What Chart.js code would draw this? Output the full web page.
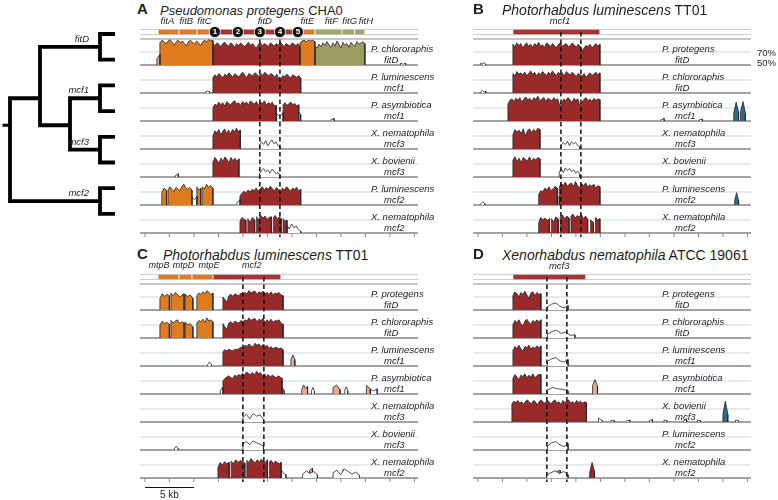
<!DOCTYPE html>
<html>
<head>
<meta charset="utf-8">
<title>fitD / mcf conservation</title>
<script src="https://cdn.jsdelivr.net/npm/chart.js@4.4.1/dist/chart.umd.min.js"></script>
<style>
  html, body { margin: 0; padding: 0; background: #fff; }
  body { position: relative; width: 778px; height: 500px; overflow: hidden;
         font-family: "Liberation Sans", Arial, sans-serif; color: #1e1e1e; }
  canvas { position: absolute; }
  .lbl { position: absolute; white-space: nowrap; line-height: 1; }
</style>
</head>
<body>
<script>
// ---------------- data ----------------
// conservation profiles: [annotation, start kb, end kb, [% identity samples]]
const profileA = [
  [['utr', 1.22, 1.53, [60, 66]],
   ['fit', 1.53, 6.94, [84, 88, 86, 82, 87, 89, 85, 80, 86, 88, 84, 87, 83, 79, 86, 88, 85, 82, 87, 84, 80, 86, 88, 86, 89, 87, 88]],
   ['mcf', 6.94, 15.82, [83, 80, 84, 82, 78, 83, 85, 81, 79, 84, 82, 77, 83, 80, 84, 81, 78, 82, 85, 80, 83, 79, 76, 82, 84, 80, 83, 81, 78, 84, 82, 79, 83, 80, 85, 82, 78, 83, 81, 79, 84, 82, 80, 83, 78]],
   ['fit', 15.82, 17.35, [84, 87, 88, 86, 88, 87, 88, 86]],
   ['fgh', 17.35, 22.45, [79, 76, 82, 78, 84, 80, 86, 81, 77, 84, 79, 87, 82, 76, 85, 80, 83, 77, 85, 81, 79, 86, 82, 84, 86, 83]],
   ['low', 26.1, 26.6, [53, 51, 53]]],
  [['low', 6.2, 6.6, [52, 53, 52]],
   ['mcf', 6.94, 15.9, [74, 78, 75, 80, 77, 73, 79, 76, 81, 78, 74, 80, 77, 75, 79, 82, 77, 74, 80, 78, 76, 81, 79, 75, 80, 77, 82, 79, 76, 80, 78, 74, 79, 72, 70, 77, 75, 79, 76, 73, 78, 76, 74, 77, 73]]],
  [['mcf', 6.94, 13.4, [70, 76, 74, 79, 75, 78, 73, 80, 77, 75, 79, 81, 76, 78, 74, 80, 77, 79, 75, 81, 78, 76, 80, 74, 79, 77, 81, 75, 78, 76, 79, 73, 74]],
   ['low', 13.4, 14.1, [62, 57, 63]],
   ['mcf', 14.1, 15.7, [75, 78, 74, 77, 79, 75, 77, 73, 75]],
   ['low', 15.7, 15.9, [64, 60]],
   ['low', 19.0, 19.3, [52, 54]]],
  [['mcf', 6.94, 9.74, [70, 78, 75, 80, 72, 77, 81, 74, 79, 73, 80, 76, 82, 77, 79]],
   ['low', 11.7, 13.8, [56, 61, 57, 63, 55, 60, 64, 58, 61, 55, 53]]],
  [['low', 3.1, 3.4, [52, 55]],
   ['mcf', 6.94, 9.6, [73, 80, 76, 71, 79, 74, 81, 77, 72, 80, 75, 79, 74, 78]],
   ['low', 11.7, 13.8, [55, 60, 63, 58, 61, 56, 62, 59, 55, 57, 53]]],
  [['fit', 1.73, 2.2, [70, 76, 72]],
   ['fit', 2.35, 4.8, [73, 78, 74, 71, 77, 75, 72, 79, 82, 76, 74, 77, 73]],
   ['low', 4.8, 5.3, [62, 58, 63]],
   ['fit', 5.3, 5.7, [78, 73, 76]],
   ['fit', 5.85, 6.94, [78, 75, 82, 77, 80, 76]],
   ['low', 9.4, 9.7, [54, 58]],
   ['mcf', 9.7, 15.9, [64, 68, 71, 69, 73, 70, 74, 72, 76, 71, 75, 78, 73, 77, 74, 79, 75, 72, 77, 74, 70, 76, 73, 78, 75, 71, 76, 74, 77, 72, 74]]],
  [['mcf', 9.7, 10.3, [68, 74, 71, 70]],
   ['mcf', 10.5, 11.2, [72, 66, 74, 70]],
   ['mcf', 11.4, 12.9, [75, 70, 77, 73, 76, 71, 74, 75]],
   ['mcf', 13.1, 13.9, [74, 77, 71, 75, 72]],
   ['mcf', 14.1, 14.5, [72, 68, 70]],
   ['low', 14.5, 15.9, [62, 56, 64, 58, 61, 55, 53]]]
];
const profileB = [
  [['low', 0.3, 0.8, [53, 51, 54, 51]],
   ['mcf', 3.57, 12.45, [82, 78, 84, 80, 83, 76, 81, 84, 79, 82, 77, 83, 80, 85, 79, 81, 77, 84, 82, 78, 83, 80, 76, 82, 84, 79, 81, 83, 78, 80, 84, 81, 77, 82, 79, 72, 76, 80, 78, 82, 76, 80, 83, 79, 82]]],
  [['low', 0.3, 0.8, [52, 54, 51, 53]],
   ['mcf', 3.57, 12.45, [80, 76, 83, 79, 81, 78, 82, 77, 80, 84, 79, 82, 76, 81, 78, 83, 80, 77, 82, 79, 84, 80, 77, 82, 79, 81, 76, 83, 80, 78, 82, 79, 75, 80, 78, 76, 80, 74, 78, 81, 77, 79, 82, 78, 81]]],
  [['mcf', 3.06, 12.45, [76, 82, 84, 80, 85, 82, 86, 79, 84, 87, 82, 85, 80, 86, 83, 88, 81, 84, 86, 80, 85, 83, 81, 86, 82, 84, 72, 79, 84, 81, 86, 83, 78, 85, 82, 84, 73, 79, 83, 86, 81, 84, 80, 85, 82, 84, 83]],
   ['low', 18.7, 19.0, [52, 54]],
   ['low', 22.6, 22.9, [52, 53]],
   ['oth', 26.1, 26.6, [62, 79, 64]],
   ['oth', 26.8, 27.3, [64, 80, 62]]],
  [['mcf', 3.57, 6.33, [72, 80, 76, 79, 74, 81, 70, 78, 81, 75, 80, 77, 82, 80]],
   ['low', 8.5, 10.4, [56, 60, 57, 62, 55, 61, 58, 60, 55, 53]]],
  [['mcf', 3.57, 6.33, [76, 81, 74, 79, 72, 80, 77, 75, 81, 74, 79, 76, 80, 78]],
   ['low', 8.3, 10.4, [58, 62, 57, 64, 60, 63, 58, 61, 56, 59, 54]]],
  [['low', 0.3, 0.7, [52, 55, 52]],
   ['mcf', 6.2, 8.1, [66, 72, 70, 76, 73, 78, 72, 75, 79, 76]],
   ['low', 8.1, 8.3, [63, 62]],
   ['mcf', 8.3, 12.45, [78, 83, 80, 85, 79, 82, 84, 78, 86, 80, 76, 83, 80, 84, 78, 81, 79, 82, 76, 80, 78]],
   ['oth', 26.2, 26.6, [57, 69, 57]]],
  [['mcf', 6.2, 7.3, [66, 74, 70, 73, 69, 72]],
   ['mcf', 7.5, 8.2, [72, 67, 75, 71]],
   ['mcf', 8.4, 9.3, [74, 78, 72, 76, 73]],
   ['mcf', 9.5, 11.2, [76, 79, 73, 77, 75, 78, 72, 76, 71]],
   ['mcf', 11.5, 11.8, [70, 66]],
   ['mcf', 12.0, 12.45, [74, 70, 72]]]
];
const profileC = [
  [['fit', 1.53, 2.5, [68, 75, 71, 74, 72]],
   ['fit', 2.65, 4.0, [76, 72, 77, 74, 70, 73, 75]],
   ['fit', 4.1, 4.9, [74, 71, 73, 68]],
   ['fit', 5.3, 6.94, [72, 76, 74, 78, 75, 80, 77, 74, 76]],
   ['mcf', 7.96, 14.1, [70, 66, 62, 72, 74, 71, 75, 73, 72, 76, 74, 77, 75, 80, 76, 78, 79, 74, 78, 76, 79, 75, 77, 74, 78, 73, 76, 75, 77, 73, 72]]],
  [['fit', 1.53, 2.5, [70, 76, 72, 74, 71]],
   ['fit', 2.65, 4.0, [77, 73, 76, 78, 72, 75, 73]],
   ['fit', 4.1, 4.9, [75, 70, 72, 67]],
   ['fit', 5.3, 6.94, [73, 77, 75, 79, 74, 81, 76, 78, 75]],
   ['mcf', 7.96, 14.1, [72, 67, 64, 73, 75, 72, 76, 74, 73, 77, 75, 78, 76, 81, 77, 79, 80, 75, 79, 77, 80, 74, 78, 75, 79, 74, 77, 76, 78, 73, 71]]],
  [['low', 6.4, 6.8, [52, 56, 52]],
   ['mcf', 7.96, 14.1, [72, 75, 73, 76, 74, 73, 76, 75, 77, 79, 76, 82, 80, 84, 81, 79, 85, 82, 84, 80, 83, 79, 82, 77, 80, 76, 79, 78, 76, 78, 75]],
   ['utr', 14.9, 15.3, [60, 67, 60]]],
  [['low', 7.7, 7.96, [56, 60]],
   ['mcf', 7.96, 14.0, [70, 74, 76, 78, 75, 74, 79, 77, 80, 78, 82, 79, 84, 81, 80, 83, 79, 85, 81, 83, 78, 81, 77, 80, 76, 79, 77, 75, 78, 76, 74]],
   ['low', 14.0, 14.2, [60, 56]],
   ['utr', 16.0, 16.6, [57, 64, 58, 62]],
   ['low', 17.0, 17.3, [55, 60, 54]],
   ['utr', 19.2, 19.9, [60, 64, 57]],
   ['low', 20.4, 20.7, [56, 61, 55]],
   ['utr', 22.6, 23.0, [63, 58]],
   ['low', 23.0, 23.7, [57, 55, 58]]],
  [['low', 10.0, 12.1, [57, 62, 55, 63, 59, 61, 54]]],
  [['low', 3.0, 3.4, [52, 56, 52]],
   ['low', 10.0, 12.1, [60, 63, 58, 64, 61, 59, 56]]],
  [['mcf', 7.45, 8.6, [66, 74, 70, 75, 72, 74]],
   ['mcf', 8.8, 10.2, [76, 72, 78, 74, 77, 75, 73]],
   ['mcf', 10.4, 12.5, [77, 74, 80, 76, 73, 78, 75, 79, 76, 74, 78]],
   ['mcf', 12.7, 13.9, [75, 77, 72, 76, 74, 72, 74]],
   ['low', 13.9, 14.4, [63, 57, 55]],
   ['low', 16.1, 17.6, [56, 61, 57, 60, 55]],
   ['utr', 16.8, 17.1, [62, 65]],
   ['low', 19.2, 21.9, [58, 62, 55, 64, 60, 56, 59, 54]],
   ['utr', 20.2, 20.6, [63, 60]]]
];
const profileD = [
  [['mcf', 3.57, 6.43, [72, 78, 75, 70, 77, 74, 79, 73, 68, 76, 78, 72, 77, 74, 75]],
   ['low', 7.1, 9.2, [55, 59, 61, 56, 53, 57]]],
  [['mcf', 3.57, 6.43, [70, 77, 73, 78, 72, 69, 76, 79, 74, 71, 77, 74, 78, 75, 78]],
   ['low', 7.1, 9.9, [56, 60, 62, 57, 59, 54, 55]]],
  [['mcf', 3.57, 6.43, [74, 80, 77, 82, 76, 73, 80, 78, 82, 76, 79, 77, 81, 78, 81]],
   ['low', 7.1, 9.2, [57, 61, 63, 58, 56, 60]]],
  [['mcf', 3.57, 6.43, [74, 80, 76, 72, 79, 77, 81, 75, 79, 76, 81, 75, 78, 80, 80]],
   ['low', 7.1, 9.2, [56, 60, 58, 57, 55]],
   ['utr', 11.7, 12.2, [63, 72, 62]]],
  [['mcf', 3.47, 11.07, [78, 82, 80, 83, 79, 81, 77, 82, 84, 80, 78, 83, 81, 76, 82, 84, 80, 79, 83, 81, 78, 82, 84, 79, 81, 77, 83, 80, 82, 84, 79, 81, 78, 83, 80, 82, 79, 81, 80]],
   ['low', 12.3, 12.7, [56, 52]],
   ['low', 13.6, 13.9, [53, 52]],
   ['low', 15.2, 15.5, [52, 53]],
   ['low', 17.5, 17.8, [52, 54]],
   ['low', 19.0, 19.3, [53, 52]],
   ['low', 21.0, 21.3, [52, 54]],
   ['low', 22.4, 22.7, [53, 52]],
   ['oth', 25.0, 25.5, [62, 82, 62]],
   ['low', 26.3, 26.6, [53, 52]]],
  [['low', 7.1, 9.2, [56, 61, 63, 58, 55, 60]]],
  [['low', 7.0, 9.2, [54, 58, 61, 57, 60, 55]],
   ['utr', 8.0, 8.4, [60, 62]],
   ['mcf', 11.4, 11.9, [58, 74, 60]]]
];

const speciesA = ['P. chlororaphis', 'P. luminescens', 'P. asymbiotica', 'X. nematophila', 'X. bovienii', 'P. luminescens', 'X. nematophila'];
const genesA   = ['fitD', 'mcf1', 'mcf1', 'mcf3', 'mcf3', 'mcf2', 'mcf2'];
const speciesB = ['P. protegens', 'P. chlororaphis', 'P. asymbiotica', 'X. nematophila', 'X. bovienii', 'P. luminescens', 'X. nematophila'];
const genesB   = ['fitD', 'fitD', 'mcf1', 'mcf3', 'mcf3', 'mcf2', 'mcf2'];
const speciesC = ['P. protegens', 'P. chlororaphis', 'P. luminescens', 'P. asymbiotica', 'X. nematophila', 'X. bovienii', 'X. nematophila'];
const genesC   = ['fitD', 'fitD', 'mcf1', 'mcf1', 'mcf3', 'mcf3', 'mcf2'];
const speciesD = ['P. protegens', 'P. chlororaphis', 'P. luminescens', 'P. asymbiotica', 'X. bovienii', 'P. luminescens', 'X. nematophila'];
const genesD   = ['fitD', 'fitD', 'mcf1', 'mcf1', 'mcf3', 'mcf2', 'mcf2'];

// reference gene maps: [name, start kb, end kb, annotation, label kb]
const genemapA = [['fitA', 1.33, 3.47, 'fit', 2.3], ['fitB', 3.47, 5.31, 'fit', 4.23], ['fitC', 5.31, 6.94, 'fit', 6.07],
                  ['fitD', 6.94, 15.82, 'mcf', 12.24], ['fitE', 15.82, 17.35, 'fit', 16.58],
                  ['fitF', 17.35, 20.1, 'fgh', 19.03], ['fitG', 20.1, 21.4, 'fgh', 20.9], ['fitH', 21.4, 22.45, 'fgh', 22.55]];
const genemapB = [['mcf1', 3.57, 12.45, 'mcf', 8.37]];
const genemapC = [['mtpB', 1.33, 3.47, 'fit', 1.45], ['mtpD', 3.47, 4.8, 'fit', 3.95], ['mtpE', 4.8, 6.94, 'fit', 6.55],
                  ['mcf2', 6.94, 13.88, 'mcf', 10.9]];
const genemapD = [['mcf3', 3.57, 11.0, 'mcf', 8.3]];

const domainMarksA = [7.14, 9.49, 11.73, 13.78, 15.61];   // numbered circles 1-5
const dashesA = [11.73, 13.78];
const dashesB = [8.47, 10.51];
const dashesC = [10.0, 12.14];
const dashesD = [7.04, 9.08];
const tickKb = [0, 2.5, 5, 7.5, 10, 12.5, 15, 17.5, 20, 22.5, 25, 27.5];

// tree: [node, depth, y (tip units), children]
const treeTips = 8;
const treeNodes = [
  ['fitD', 3, 0.5, [0, 1]],
  ['mcf1', 3, 2.5, [2, 3]],
  ['mcf3', 3, 4.5, [4, 5]],
  ['mcf2', 3, 6.5, [6, 7]],
  ['n2', 2, 3.55, ['mcf1', 'mcf3']],
  ['n1', 1, 2.5, ['fitD', 'n2']],
  ['root', 0, 3.55, ['n1', 'mcf2']]
];
const treeLabels = ['fitD', 'mcf1', 'mcf3', 'mcf2'];

// ---------------- styling / layout ----------------
const FILL = { fit: '#df7b1f', mcf: '#992a2a', fgh: '#9c9c64', utr: '#eca58e', oth: '#2e6a8e', low: '#ffffff' };
const BAR  = { fit: '#e07b24', mcf: '#a93333', fgh: '#a0a56c' };
const PX_PER_KB = 9.8, PANEL_W = 278, PANEL_H = 226;
const KB_MIN = -0.5, KB_MAX = KB_MIN + PANEL_W / PX_PER_KB;
const Y_MAX = 215, Y_MIN = Y_MAX - PANEL_H;
const TRACK_GAP = 28, PCT_PX = 0.65;
const GENE_Y = 201;

function addText(html, x, baseline, size, opt) {
  opt = opt || {};
  const d = document.createElement('div');
  d.className = 'lbl';
  d.innerHTML = html;
  d.style.fontSize = size + 'px';
  d.style.top = (baseline - 0.846 * size) + 'px';
  if (opt.italic) d.style.fontStyle = 'italic';
  if (opt.bold) d.style.fontWeight = 'bold';
  if (opt.color) d.style.color = opt.color;
  if (opt.align === 'center') { d.style.left = x + 'px'; d.style.transform = 'translateX(-50%)'; }
  else if (opt.align === 'right') { d.style.right = (778 - x) + 'px'; }
  else d.style.left = x + 'px';
  document.body.appendChild(d);
  return d;
}

function hline(y, color, width, order) {
  return { data: [{ x: KB_MIN, y: y }, { x: KB_MAX, y: y }], borderColor: color, borderWidth: width,
           pointRadius: 0, fill: false, order: order };
}

function segPoints(seg, base) {
  const s = seg[1], e = seg[2], vals = seg[3], n = vals.length;
  const pts = [{ x: s, y: base }];
  vals.forEach((v, i) => pts.push({ x: s + (e - s) * i / (n - 1), y: base + (v - 50) * PCT_PX }));
  pts.push({ x: e, y: base });
  return pts;
}

const baseOptions = (xmin, xmax, ymin, ymax, reverse) => ({
  responsive: false, animation: false, events: [],
  layout: { padding: 0, autoPadding: false },
  elements: { line: { tension: 0 } },
  plugins: { legend: { display: false }, tooltip: { enabled: false } },
  scales: {
    x: { type: 'linear', min: xmin, max: xmax, display: false },
    y: { type: 'linear', min: ymin, max: ymax, reverse: !!reverse, display: false }
  }
});

function makePanel(p) {
  const cv = document.createElement('canvas');
  cv.width = PANEL_W; cv.height = PANEL_H;
  cv.style.left = p.left + 'px'; cv.style.top = p.top + 'px';
  document.body.appendChild(cv);

  const nTracks = p.profile.length;
  const base = i => (nTracks - 1 - i) * TRACK_GAP;
  const ds = [];

  // gene row rails + top rule
  ds.push(hline(GENE_Y + 2.6, '#c9c9c9', 1, 20));
  ds.push(hline(GENE_Y - 2.6, '#c9c9c9', 1, 20));
  ds.push(hline(base(0) + 26, '#8d8d8d', 1.2, 20));
  for (let i = 0; i < nTracks; i++) {
    ds.push(hline(base(i) + 20 * PCT_PX, '#cdd5e6', 1, 19));
    ds.push(hline(base(i), '#858585', 1.5, 18));
  }
  // conservation profiles
  p.profile.forEach((track, i) => {
    track.forEach(seg => {
      ds.push({ data: segPoints(seg, base(i)), borderColor: '#262626', borderWidth: 0.8,
                backgroundColor: FILL[seg[0]], fill: { value: base(i) }, pointRadius: 0, order: 10 });
    });
  });
  // gene bars
  p.genes.forEach(g => {
    ds.push({ data: [{ x: g[1] + 0.05, y: GENE_Y }, { x: g[2] - 0.05, y: GENE_Y }], borderColor: BAR[g[3]],
              borderWidth: 4.4, borderCapStyle: 'butt', pointRadius: 0, fill: false, order: 4 });
  });
  // dashed domain boundaries
  p.dashes.forEach(k => {
    ds.push({ data: [{ x: k, y: GENE_Y }, { x: k, y: -4 }], borderColor: '#111', borderWidth: 1.5,
              borderDash: [4.5, 3], pointRadius: 0, fill: false, order: 2 });
  });
  // numbered domain markers
  if (p.marks) {
    ds.push({ data: p.marks.map(k => ({ x: k, y: GENE_Y })), showLine: false, pointRadius: 5.6,
              pointBackgroundColor: '#111', pointBorderColor: '#fff', pointBorderWidth: 0.8, order: 1 });
  }
  // kb ticks under the last track
  ds.push({ data: tickKb.map(k => ({ x: k, y: -2 })), showLine: false, pointStyle: 'line', pointRotation: 90,
            pointRadius: 2, pointBorderColor: '#8a8a8a', pointBorderWidth: 1, order: 3 });

  const chart = new Chart(cv, { type: 'line', data: { datasets: ds },
                                options: baseOptions(KB_MIN, KB_MAX, Y_MIN, Y_MAX) });

  const px = k => p.left + chart.scales.x.getPixelForValue(k);
  const py = v => p.top + chart.scales.y.getPixelForValue(v);

  // titles and labels
  addText(p.letter, p.left + p.letterDx, py(GENE_Y) - 18.5, 15, { bold: true });
  addText(p.title, p.left + p.titleDx, py(GENE_Y) - 17.5, p.titleFont || 14);
  p.genes.forEach(g => addText(g[0], px(g[4]), py(GENE_Y) - 8, p.geneFont || 9.5, { italic: true, align: 'center' }));
  if (p.marks) p.marks.forEach((k, i) =>
    addText(String(i + 1), px(k), py(GENE_Y) + 3, 8, { bold: true, color: '#fff', align: 'center' }));
  p.species.forEach((s, i) => {
    addText(s, p.left + p.labelX, py(base(i)) - 12.5, 9.5, { italic: true });
    addText(p.geneNames[i], p.left + p.labelX + 13, py(base(i)) - 1.5, 9.5, { italic: true });
  });
  return { chart, px, py, base };
}

// ---------------- panels ----------------
const pa = makePanel({ left: 140, top: 18, letter: 'A', letterDx: -3, title: '<i>Pseudomonas protegens</i> CHA0',
  titleDx: 20, titleFont: 13, profile: profileA, species: speciesA, geneNames: genesA, genes: genemapA,
  dashes: dashesA, marks: domainMarksA, labelX: 231 });
const pb = makePanel({ left: 473, top: 18, letter: 'B', letterDx: 0, title: '<i>Photorhabdus luminescens</i> TT01',
  titleDx: 29, profile: profileB, species: speciesB, geneNames: genesB, genes: genemapB, dashes: dashesB, labelX: 189 });
const pc = makePanel({ left: 140, top: 263, letter: 'C', letterDx: -3, title: '<i>Photorhabdus luminescens</i> TT01',
  titleDx: 23, profile: profileC, species: speciesC, geneNames: genesC, genes: genemapC, dashes: dashesC,
  labelX: 231, geneFont: 9 });
const pd = makePanel({ left: 473, top: 263, letter: 'D', letterDx: 0, title: '<i>Xenorhabdus nematophila</i> ATCC 19061',
  titleDx: 29, profile: profileD, species: speciesD, geneNames: genesD, genes: genemapD, dashes: dashesD, labelX: 189 });

// y-scale key next to panel B
addText('70%', 757, pb.py(pb.base(0) + 20 * PCT_PX) + 4, 9.5);
addText('50%', 757, pb.py(pb.base(0)) + 1, 9.5);

// 5 kb scale bar under panel C
(function () {
  const x0 = pc.px(0), x1 = pc.px(5);
  const bar = document.createElement('div');
  bar.style.cssText = 'position:absolute;height:0;border-top:1.5px solid #111;top:487px;left:' + x0 + 'px;width:' + (x1 - x0) + 'px';
  document.body.appendChild(bar);
  addText('5 kb', (x0 + x1) / 2, 498, 10, { align: 'center' });
})();

// ---------------- tree ----------------
(function () {
  const cv = document.createElement('canvas');
  cv.width = 130; cv.height = 210;
  cv.style.left = '0px'; cv.style.top = '20px';
  document.body.appendChild(cv);
  const TIP_DEPTH = 3.5;
  const nodes = {};
  treeNodes.forEach(n => { nodes[n[0]] = { depth: n[1], y: n[2], kids: n[3] }; });
  const pos = c => (typeof c === 'number') ? { depth: TIP_DEPTH, y: c } : nodes[c];
  const ds = treeNodes.map(n => {
    const a = pos(n[3][0]), b = pos(n[3][1]);
    return { data: [{ x: a.depth, y: a.y }, { x: n[1], y: a.y }, { x: n[1], y: b.y }, { x: b.depth, y: b.y }],
             borderColor: '#000', borderWidth: 3.8, borderJoinStyle: 'miter', borderCapStyle: 'butt',
             pointRadius: 0, fill: false };
  });
  const root = nodes.root;
  ds.push({ data: [{ x: -0.25, y: root.y }, { x: root.depth, y: root.y }], borderColor: '#000', borderWidth: 3,
            borderCapStyle: 'butt', pointRadius: 0, fill: false });
  const chart = new Chart(cv, { type: 'line', data: { datasets: ds },
                                options: baseOptions(-1 / 3, 4, -0.545, treeTips - 0.374, true) });
  treeLabels.forEach(name => {
    const n = nodes[name];
    addText(name, chart.scales.x.getPixelForValue(n.depth) - 11, 20 + chart.scales.y.getPixelForValue(n.y) - 5,
            9.5, { italic: true, align: 'right' });
  });
})();
</script>
</body>
</html>
